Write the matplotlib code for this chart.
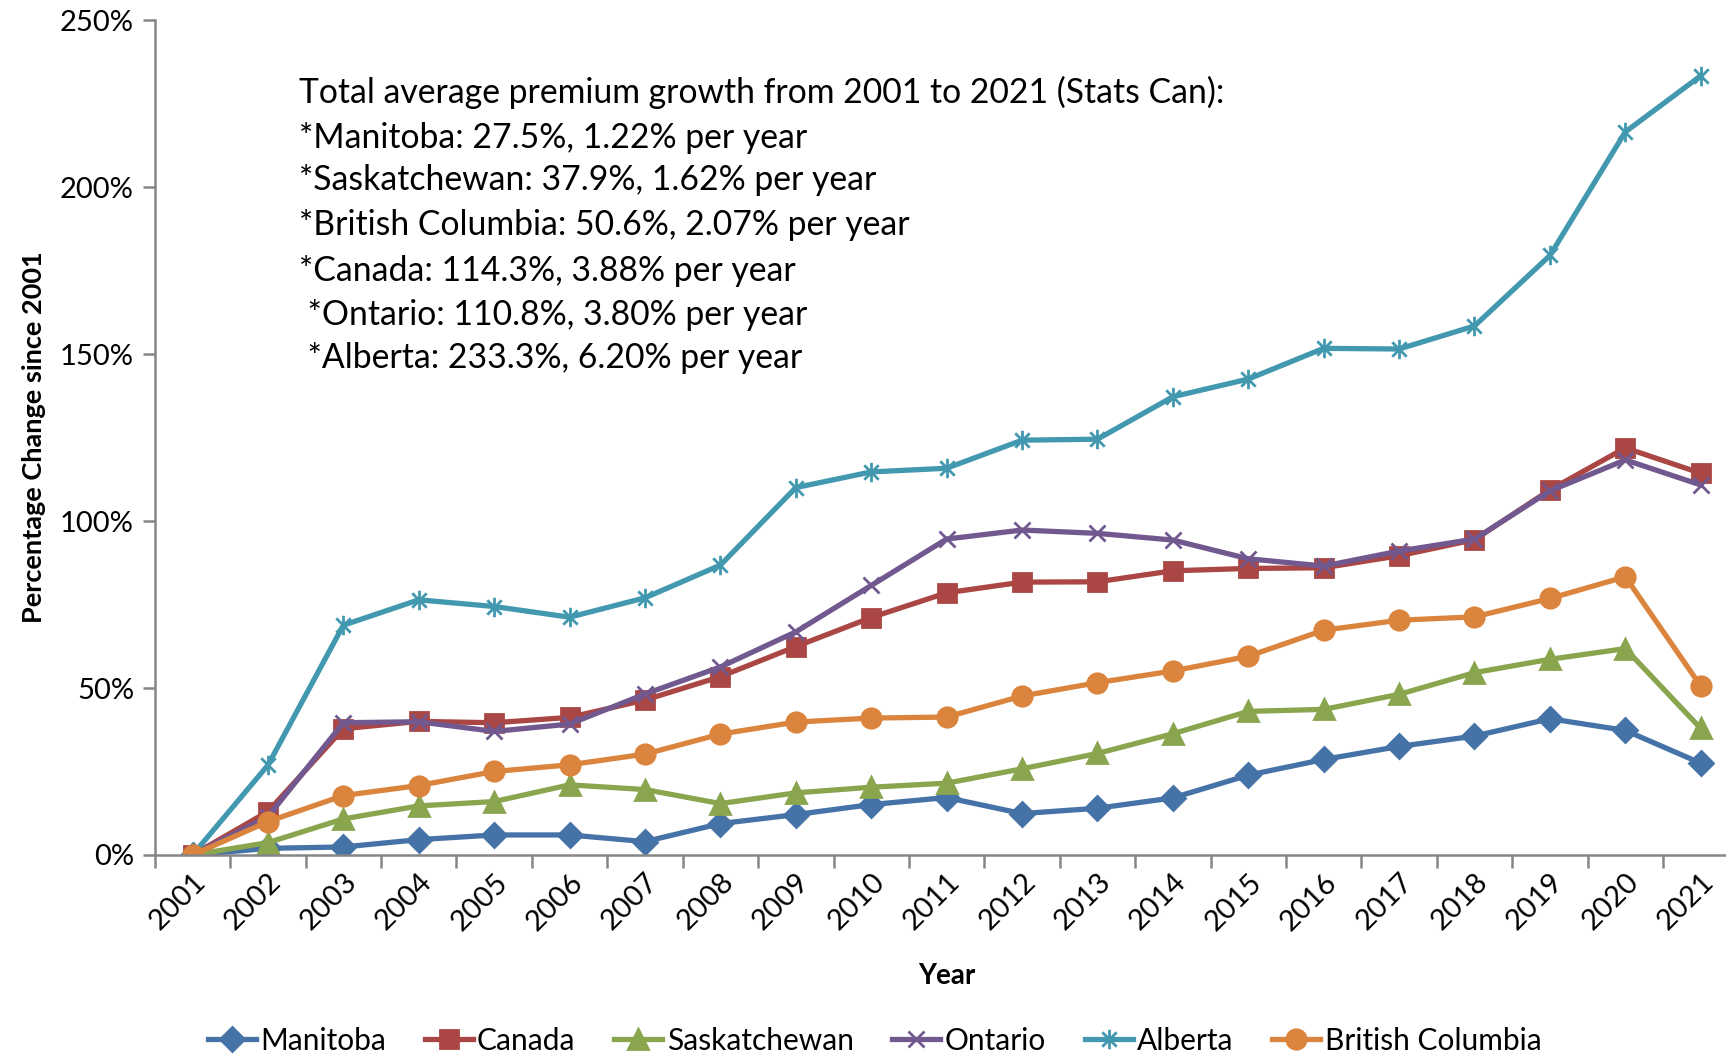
import matplotlib
matplotlib.use('Agg')
import matplotlib.pyplot as plt
from matplotlib.path import Path
from matplotlib.ticker import FixedLocator, FuncFormatter

plt.rcParams['font.family'] = ['Lato', 'DejaVu Sans']

years = [str(y) for y in range(2001, 2022)]

manitoba = [0, 2.0, 2.4, 4.6, 6.0, 6.0, 4.0, 9.4, 12.1, 15.1, 17.2, 12.4,
            14.0, 17.1, 23.9, 28.6, 32.5, 35.6, 40.8, 37.3, 27.5]
canada = [0, 13.0, 37.8, 40.0, 39.6, 41.2, 46.4, 53.4, 62.4, 71.1, 78.5, 81.7,
          81.8, 85.1, 85.8, 86.0, 89.6, 94.4, 109.3, 121.9, 114.3]
saskatchewan = [0, 3.7, 10.8, 14.7, 16.0, 21.0, 19.6, 15.4, 18.6, 20.3, 21.5, 25.8,
                30.4, 36.3, 43.0, 43.6, 48.1, 54.6, 58.6, 61.8, 37.9]
ontario = [0, 11.5, 39.6, 39.9, 37.0, 39.2, 48.2, 56.3, 66.8, 80.7, 94.6, 97.3,
           96.3, 94.3, 88.7, 86.5, 91.0, 94.6, 109.0, 118.3, 110.8]
alberta = [0, 26.9, 68.8, 76.4, 74.4, 71.2, 77.0, 86.8, 110.0, 114.7, 115.8, 124.2,
           124.5, 137.2, 142.5, 151.7, 151.5, 158.4, 179.5, 216.5, 233.3]
british_columbia = [0, 10.0, 17.8, 20.8, 25.0, 27.0, 30.2, 36.2, 39.8, 41.0, 41.3, 47.6,
                    51.6, 55.1, 59.5, 67.3, 70.3, 71.3, 76.8, 83.3, 50.6]

notes = [
    'Total average premium growth from 2001 to 2021 (Stats Can):',
    '*Manitoba: 27.5%, 1.22% per year',
    '*Saskatchewan: 37.9%, 1.62% per year',
    '*British Columbia: 50.6%, 2.07% per year',
    '*Canada: 114.3%, 3.88% per year',
    ' *Ontario: 110.8%, 3.80% per year',
    ' *Alberta: 233.3%, 6.20% per year',
]

# Excel-style star marker (x plus vertical bar)
star = Path([(-1, -1), (1, 1), (-1, 1), (1, -1), (0, -1.35), (0, 1.35)],
            [Path.MOVETO, Path.LINETO, Path.MOVETO, Path.LINETO, Path.MOVETO, Path.LINETO])

series = [
    ('Manitoba', manitoba, '#4572A7', 'D', 12),
    ('Canada', canada, '#AA4643', 's', 13),
    ('Saskatchewan', saskatchewan, '#89A54E', '^', 14),
    ('Ontario', ontario, '#71588F', 'x', 12),
    ('Alberta', alberta, '#4198AF', star, 14),
    ('British Columbia', british_columbia, '#DB843D', 'o', 14),
]

fig = plt.figure(figsize=(17.26, 10.6), dpi=100)
ax = fig.add_axes([0.0897, 0.1934, 0.9175, 0.7877])

x = list(range(len(years)))
for name, vals, color, marker, ms in series:
    ax.plot(x, vals, color=color, linewidth=3.8, marker=marker, markersize=ms,
            markerfacecolor=color, markeredgecolor=color, markeredgewidth=2,
            label=name)

ax.set_xlim(-0.5, len(years) - 0.5)
ax.set_ylim(0, 250)
ax.set_xticks(x)
ax.set_xticklabels(years, rotation=45, ha='right', rotation_mode='anchor', fontsize=21)
ax.tick_params(axis='x', length=0, pad=10)
ax.xaxis.set_minor_locator(FixedLocator([i - 0.5 for i in range(len(years) + 1)]))
ax.tick_params(axis='x', which='minor', length=9, width=1.8, color='#868686')
ax.set_yticks([0, 50, 100, 150, 200, 250])
ax.yaxis.set_major_formatter(FuncFormatter(lambda v, p: f'{v:.0f}%'))
ax.tick_params(axis='y', length=9, width=1.8, color='#868686', labelsize=21, pad=6)

for side in ['top', 'right']:
    ax.spines[side].set_visible(False)
for side in ['left', 'bottom']:
    ax.spines[side].set_color('#868686')
    ax.spines[side].set_linewidth(1.8)

ax.set_xlabel('Year', fontsize=20, fontweight='bold', labelpad=20)
ax.set_ylabel('Percentage Change since 2001', fontsize=19.5, fontweight='bold', labelpad=10)

baselines = [103, 148, 190, 235, 281, 325, 368]
for txt, yb in zip(notes, baselines):
    fig.text(299 / 1726, 1 - yb / 1060, txt, fontsize=24.3, va='baseline', ha='left')

fig.legend(loc='center', bbox_to_anchor=(0.5067, 0.018), ncol=6, frameon=False,
           fontsize=21.5, handlelength=1.6, handletextpad=0.15, columnspacing=1.3,
           markerscale=1.0)

fig.savefig('out.png', dpi=100)
